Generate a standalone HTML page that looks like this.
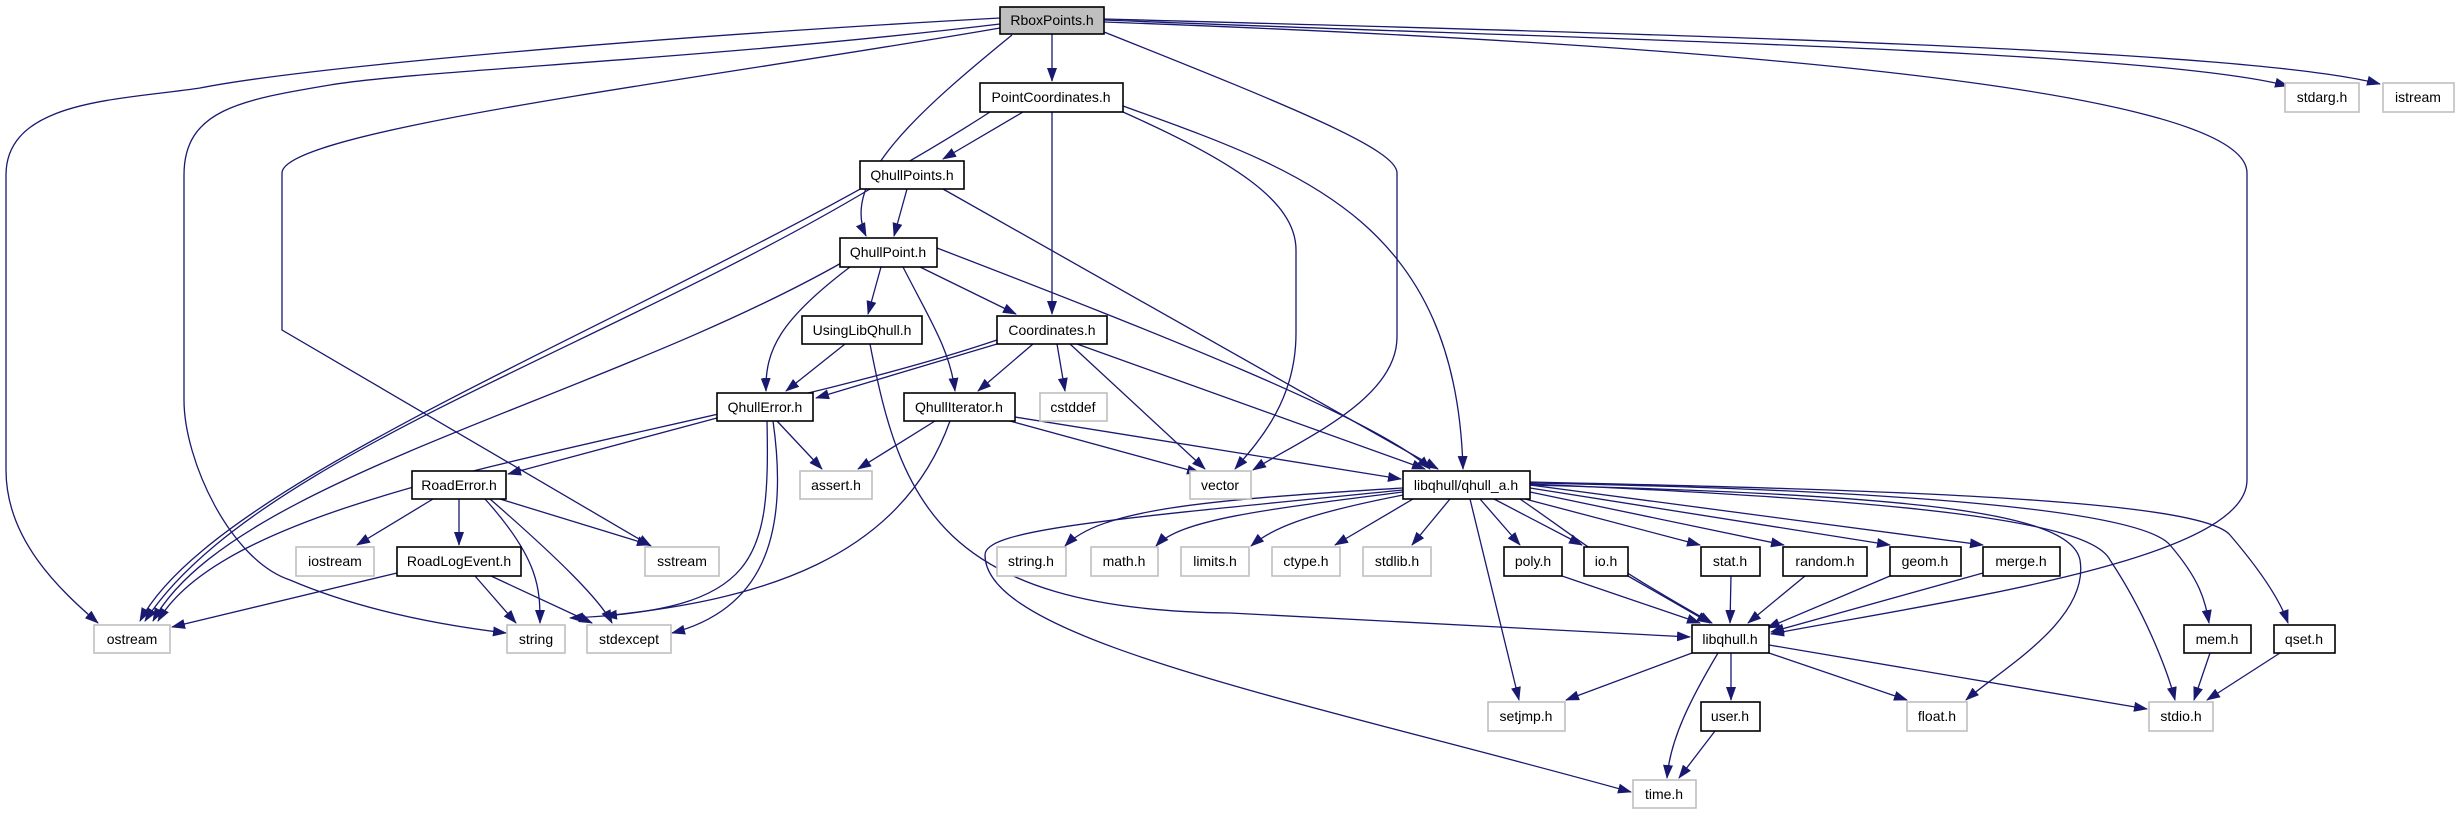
<!DOCTYPE html>
<html><head><meta charset="utf-8"><style>
html,body{margin:0;padding:0;background:#fff;}
svg{display:block;}
text{font-family:"Liberation Sans","DejaVu Sans",sans-serif;font-size:14px;fill:#000;text-anchor:middle;}
.e{fill:none;stroke:#191970;stroke-width:1.3;marker-end:url(#a);}
.n{fill:#fff;stroke:#000;stroke-width:1.6;}
.x{fill:#fff;stroke:#bfbfbf;stroke-width:1.6;}
</style></head><body>
<svg width="2459" height="813" viewBox="0 0 2459 813" xmlns="http://www.w3.org/2000/svg">
<defs><marker id="a" markerWidth="14" markerHeight="10" refX="13" refY="5" orient="auto" markerUnits="userSpaceOnUse"><path d="M0,0 L14,5 L0,10 z" fill="#191970"/></marker></defs>
<g>
<!-- RboxPoints edges -->
<path class="e" d="M1000,18 C600,40 290,70 200,88 C120,100 6,100 6,175 L6,470 C6,540 60,590 98,623"/>
<path class="e" d="M1000,24 C700,60 420,70 330,85 C240,100 184,110 184,175 L184,400 C184,460 230,560 290,580 C360,610 440,625 506,633"/>
<path class="e" d="M1000,28 C700,80 282,130 282,173 L282,330 L651,546"/>
<path class="e" d="M1012,35 C920,110 840,180 866,236"/>
<path class="e" d="M1052,34 L1052,81"/>
<path class="e" d="M1104,32 C1300,110 1397,150 1397,173 L1397,337 C1397,400 1300,440 1253,470"/>
<path class="e" d="M1104,22 C1600,40 2247,80 2247,173 L2247,480 C2247,560 1950,600 1771,634"/>
<path class="e" d="M1104,20 C1600,40 2150,50 2288,86"/>
<path class="e" d="M1104,19 C1700,35 2250,50 2380,84"/>
<!-- PointCoordinates -->
<path class="e" d="M990,112 C700,300 220,470 140,621"/>
<path class="e" d="M1023,112 L943,159"/>
<path class="e" d="M1052,112 L1052,314"/>
<path class="e" d="M1123,112 C1230,160 1296,200 1296,250 L1296,333 C1296,400 1260,440 1235,469"/>
<path class="e" d="M1123,106 C1300,170 1456,220 1463,469"/>
<!-- QhullPoints -->
<path class="e" d="M907,189 L894,236"/>
<path class="e" d="M870,189 C600,350 250,460 145,621"/>
<path class="e" d="M943,189 L1438,469"/>
<!-- QhullPoint -->
<path class="e" d="M843,262 C600,400 230,480 153,621"/>
<path class="e" d="M850,267 C780,320 765,350 766,391"/>
<path class="e" d="M881,267 L868,314"/>
<path class="e" d="M903,267 C930,320 950,350 955,391"/>
<path class="e" d="M920,267 L1016,314"/>
<path class="e" d="M937,248 C1150,330 1380,420 1430,469"/>
<!-- UsingLibQhull -->
<path class="e" d="M845,344 L786,391"/>
<path class="e" d="M870,344 C900,500 940,610 1230,613 L1690,637"/>
<!-- Coordinates -->
<path class="e" d="M997,340 C700,440 240,480 158,621"/>
<path class="e" d="M997,344 L816,398"/>
<path class="e" d="M1033,344 L978,391"/>
<path class="e" d="M1057,344 L1065,391"/>
<path class="e" d="M1070,344 L1205,469"/>
<path class="e" d="M1077,344 L1425,469"/>
<!-- QhullError -->
<path class="e" d="M717,418 L508,474"/>
<path class="e" d="M777,421 L822,469"/>
<path class="e" d="M767,421 C770,560 760,610 570,618"/>
<path class="e" d="M773,421 C790,540 760,610 672,633"/>
<!-- QhullIterator -->
<path class="e" d="M935,421 L858,469"/>
<path class="e" d="M950,421 C900,560 760,600 604,616"/>
<path class="e" d="M1010,421 L1200,473"/>
<path class="e" d="M1015,417 L1401,479"/>
<!-- RoadError -->
<path class="e" d="M433,499 L357,545"/>
<path class="e" d="M459,499 L459,545"/>
<path class="e" d="M500,499 L650,545"/>
<path class="e" d="M485,499 C540,560 540,590 540,623"/>
<path class="e" d="M490,499 C560,560 600,600 612,623"/>
<!-- RoadLogEvent -->
<path class="e" d="M397,573 L172,627"/>
<path class="e" d="M475,576 L516,623"/>
<path class="e" d="M491,576 L592,623"/>
<!-- qhull_a -->
<path class="e" d="M1403,488 C1200,500 1100,510 1065,546"/>
<path class="e" d="M1403,492 C1260,510 1180,520 1156,546"/>
<path class="e" d="M1403,495 C1300,515 1270,530 1251,546"/>
<path class="e" d="M1413,499 L1335,545"/>
<path class="e" d="M1450,499 L1412,545"/>
<path class="e" d="M1480,499 L1520,545"/>
<path class="e" d="M1494,499 L1582,545"/>
<path class="e" d="M1525,499 L1700,545"/>
<path class="e" d="M1530,492 L1784,545"/>
<path class="e" d="M1530,488 L1890,545"/>
<path class="e" d="M1530,485 L1983,545"/>
<path class="e" d="M1520,499 C1580,540 1600,560 1712,623"/>
<path class="e" d="M1470,499 L1519,700"/>
<path class="e" d="M1403,490 C1100,520 985,530 985,555 C985,640 1300,700 1631,792"/>
<path class="e" d="M1530,484 C1900,500 2090,520 2110,560 C2150,620 2170,680 2175,700"/>
<path class="e" d="M1530,485 C1900,495 2070,510 2080,560 C2090,620 2000,670 1966,700"/>
<path class="e" d="M1530,483 C1900,490 2140,510 2170,545 C2200,580 2205,600 2209,623"/>
<path class="e" d="M1530,482 C1900,490 2200,500 2230,535 C2260,570 2280,600 2288,623"/>
<!-- into libqhull.h -->
<path class="e" d="M1562,576 L1700,623"/>
<path class="e" d="M1628,576 L1710,623"/>
<path class="e" d="M1731,576 L1730,623"/>
<path class="e" d="M1805,576 L1748,623"/>
<path class="e" d="M1890,576 L1767,628"/>
<path class="e" d="M1983,573 L1771,632"/>
<!-- libqhull.h out -->
<path class="e" d="M1692,653 L1566,700"/>
<path class="e" d="M1718,653 C1690,700 1670,740 1667,778"/>
<path class="e" d="M1731,653 L1731,700"/>
<path class="e" d="M1769,653 L1907,700"/>
<path class="e" d="M1769,645 L2147,709"/>
<path class="e" d="M1715,731 L1679,778"/>
<path class="e" d="M2210,653 L2194,700"/>
<path class="e" d="M2280,653 L2207,700"/>
</g>
<g>
<rect x="1000" y="7" width="104" height="27" fill="#bfbfbf" stroke="#000" stroke-width="1.6"/><text x="1052" y="25">RboxPoints.h</text>
<rect class="n" x="980" y="83" width="143" height="29"/><text x="1051" y="102">PointCoordinates.h</text>
<rect class="n" x="860" y="161" width="104" height="28"/><text x="912" y="180">QhullPoints.h</text>
<rect class="n" x="840" y="238" width="97" height="29"/><text x="888" y="257">QhullPoint.h</text>
<rect class="n" x="802" y="316" width="120" height="28"/><text x="862" y="335">UsingLibQhull.h</text>
<rect class="n" x="997" y="316" width="110" height="28"/><text x="1052" y="335">Coordinates.h</text>
<rect class="n" x="717" y="393" width="96" height="28"/><text x="765" y="412">QhullError.h</text>
<rect class="n" x="904" y="393" width="111" height="28"/><text x="959" y="412">QhullIterator.h</text>
<rect class="x" x="1040" y="393" width="67" height="28"/><text x="1073" y="412">cstddef</text>
<rect class="x" x="2285" y="83" width="74" height="29"/><text x="2322" y="102">stdarg.h</text>
<rect class="x" x="2383" y="83" width="71" height="29"/><text x="2418" y="102">istream</text>
<rect class="n" x="412" y="471" width="94" height="28"/><text x="459" y="490">RoadError.h</text>
<rect class="x" x="296" y="547" width="78" height="29"/><text x="335" y="566">iostream</text>
<rect class="n" x="397" y="547" width="124" height="29"/><text x="459" y="566">RoadLogEvent.h</text>
<rect class="x" x="645" y="547" width="74" height="29"/><text x="682" y="566">sstream</text>
<rect class="x" x="94" y="625" width="76" height="28"/><text x="132" y="644">ostream</text>
<rect class="x" x="507" y="625" width="58" height="28"/><text x="536" y="644">string</text>
<rect class="x" x="587" y="625" width="84" height="28"/><text x="629" y="644">stdexcept</text>
<rect class="x" x="800" y="471" width="72" height="28"/><text x="836" y="490">assert.h</text>
<rect class="x" x="1190" y="471" width="61" height="28"/><text x="1220" y="490">vector</text>
<rect class="n" x="1403" y="471" width="127" height="28"/><text x="1466" y="490">libqhull/qhull_a.h</text>
<rect class="x" x="997" y="547" width="69" height="29"/><text x="1031" y="566">string.h</text>
<rect class="x" x="1091" y="547" width="67" height="29"/><text x="1124" y="566">math.h</text>
<rect class="x" x="1181" y="547" width="68" height="29"/><text x="1215" y="566">limits.h</text>
<rect class="x" x="1272" y="547" width="68" height="29"/><text x="1306" y="566">ctype.h</text>
<rect class="x" x="1363" y="547" width="68" height="29"/><text x="1397" y="566">stdlib.h</text>
<rect class="n" x="1504" y="547" width="58" height="29"/><text x="1533" y="566">poly.h</text>
<rect class="n" x="1584" y="547" width="44" height="29"/><text x="1606" y="566">io.h</text>
<rect class="n" x="1701" y="547" width="59" height="29"/><text x="1730" y="566">stat.h</text>
<rect class="n" x="1783" y="547" width="84" height="29"/><text x="1825" y="566">random.h</text>
<rect class="n" x="1890" y="547" width="71" height="29"/><text x="1925" y="566">geom.h</text>
<rect class="n" x="1983" y="547" width="77" height="29"/><text x="2021" y="566">merge.h</text>
<rect class="n" x="1692" y="625" width="77" height="28"/><text x="1730" y="644">libqhull.h</text>
<rect class="n" x="2184" y="625" width="67" height="28"/><text x="2217" y="644">mem.h</text>
<rect class="n" x="2274" y="625" width="61" height="28"/><text x="2304" y="644">qset.h</text>
<rect class="x" x="1488" y="702" width="77" height="29"/><text x="1526" y="721">setjmp.h</text>
<rect class="n" x="1701" y="702" width="59" height="29"/><text x="1730" y="721">user.h</text>
<rect class="x" x="1907" y="702" width="60" height="29"/><text x="1937" y="721">float.h</text>
<rect class="x" x="2149" y="702" width="64" height="29"/><text x="2181" y="721">stdio.h</text>
<rect class="x" x="1633" y="780" width="63" height="28"/><text x="1664" y="799">time.h</text>
</g>
</svg>
</body></html>
